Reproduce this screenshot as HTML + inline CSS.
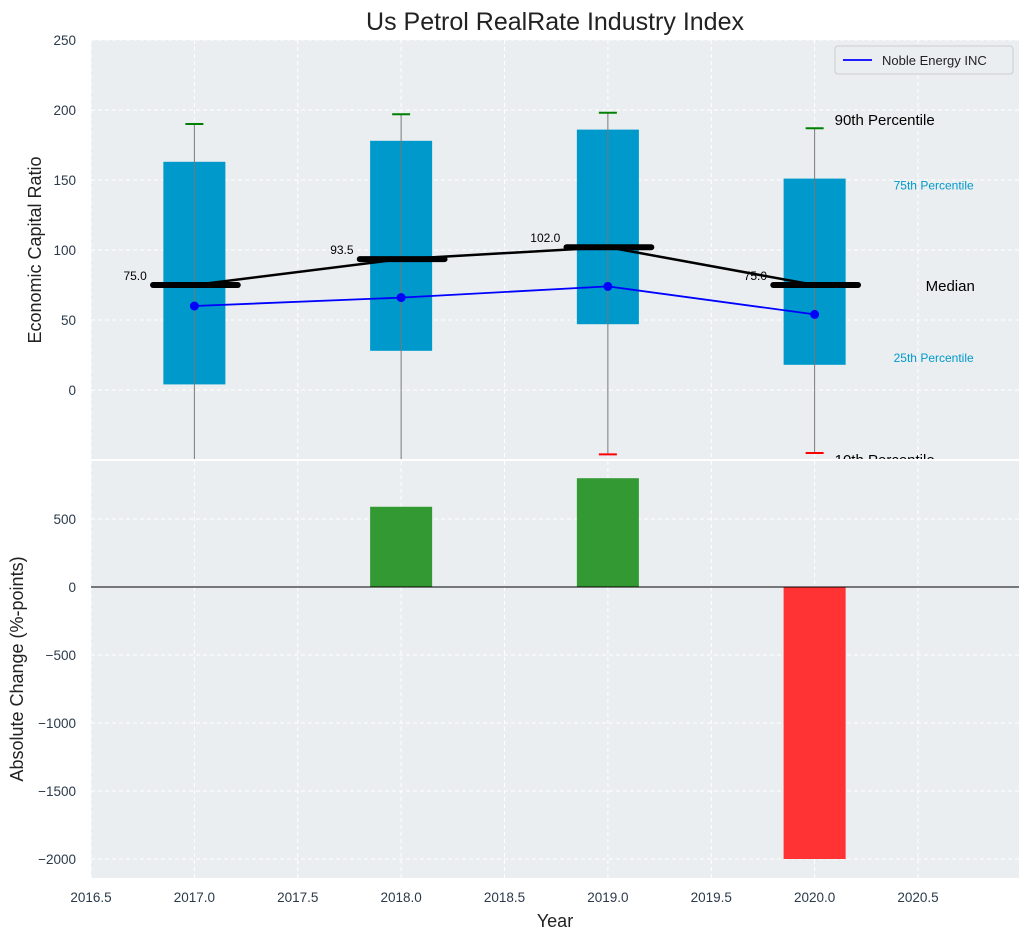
<!DOCTYPE html>
<html><head><meta charset="utf-8"><style>
body{margin:0;background:#fff;font-family:"Liberation Sans","DejaVu Sans",sans-serif}
svg text{font-family:"Liberation Sans","DejaVu Sans",sans-serif}
</style></head><body>
<svg id="c" width="1029" height="940" xmlns="http://www.w3.org/2000/svg"></svg>
<script>
const years=[2017,2018,2019,2020];
const q25=[4,28,47,18];
const q75=[163,178,186,151];
const p90=[190,197,198,187];
const p10=[-80,-80,-46,-45];
const medians=[75,93.5,102,75];
const company=[60,66,74,54];
const changes=[0,590,800,-2000];
const topTicks=[0,50,100,150,200,250];
const botTicks=[500,0,-500,-1000,-1500,-2000];
const xTicks=[2016.5,2017,2017.5,2018,2018.5,2019,2019.5,2020,2020.5];

const NS="http://www.w3.org/2000/svg";
const svg=document.getElementById('c');
const L=91,R=1019,T1=40,B1=459,T2=461,B2=878;
const x=v=>L+(v-2016.5)*206.75;
const y1=v=>390-1.4*v;
const y2=v=>587-0.136*v;
function el(tag,a,parent){const e=document.createElementNS(NS,tag);for(const k in a)e.setAttribute(k,a[k]);(parent||svg).appendChild(e);return e;}
function tx(s,a,p){const e=el('text',a,p);e.textContent=s;return e;}

const defs=el('defs',{});
const cp1=el('clipPath',{id:'cp1'},defs);el('rect',{x:L,y:T1,width:R-L,height:B1-T1},cp1);
const cp2=el('clipPath',{id:'cp2'},defs);el('rect',{x:L,y:T2,width:R-L,height:B2-T2},cp2);

const bg1=el('rect',{x:L,y:T1,width:R-L,height:B1-T1,fill:'#eaeef0'});


const bg2=el('rect',{x:L,y:T2,width:R-L,height:B2-T2,fill:'#eaeef0'});



xTicks.forEach(t=>{
  el('line',{x1:x(t),x2:x(t),y1:T1,y2:B1,stroke:'#fff','stroke-dasharray':'4,3','stroke-width':1});
  el('line',{x1:x(t),x2:x(t),y1:T2,y2:B2,stroke:'#fff','stroke-dasharray':'4,3','stroke-width':1});
  const l=tx(t.toFixed(1),{x:x(t),y:902,'text-anchor':'middle','font-size':13.5,fill:'#2b3a4a'});
  
  
});
topTicks.forEach(t=>{
  el('line',{x1:L,x2:R,y1:y1(t),y2:y1(t),stroke:'#fff','stroke-dasharray':'4,3'});
  const l=tx(String(t),{x:76,y:y1(t)+5,'text-anchor':'end','font-size':13.5,fill:'#2b3a4a'});
  
  
});
botTicks.forEach(t=>{
  el('line',{x1:L,x2:R,y1:y2(t),y2:y2(t),stroke:'#fff','stroke-dasharray':'4,3'});
  const l=tx(t<0?'\u2212'+(-t):String(t),{x:76,y:y2(t)+5,'text-anchor':'end','font-size':13.5,fill:'#2b3a4a'});
  
  
});

const g1=el('g',{'clip-path':'url(#cp1)'});
years.forEach((yr,i)=>{
  const b=el('rect',{x:x(yr-0.15),y:y1(q75[i]),width:x(yr+0.15)-x(yr-0.15),height:y1(q25[i])-y1(q75[i]),fill:'#0099cc'},g1);
  
  
  el('line',{x1:x(yr),x2:x(yr),y1:y1(p90[i]),y2:y1(p10[i]),stroke:'#777','stroke-width':1},g1);
  el('line',{x1:x(yr)-9,x2:x(yr)+9,y1:y1(p90[i]),y2:y1(p90[i]),stroke:'green','stroke-width':2},g1);
  el('line',{x1:x(yr)-9,x2:x(yr)+9,y1:y1(p10[i]),y2:y1(p10[i]),stroke:'red','stroke-width':2},g1);
});
el('polyline',{points:years.map((yr,i)=>x(yr)+','+y1(medians[i])).join(' '),fill:'none',stroke:'#000','stroke-width':2.5},g1);
years.forEach((yr,i)=>{
  const m=el('line',{x1:x(yr-0.2),x2:x(yr+0.21),y1:y1(medians[i]),y2:y1(medians[i]),stroke:'#000','stroke-width':6,'stroke-linecap':'round'},g1);
  
  
  tx(String(medians[i].toFixed(1)),{x:x(yr-0.23),y:y1(medians[i])-5,'text-anchor':'end','font-size':12,fill:'#000'},g1);
});
const cl=el('polyline',{points:years.map((yr,i)=>x(yr)+','+y1(company[i])).join(' '),fill:'none',stroke:'blue','stroke-width':1.8},g1);


years.forEach((yr,i)=>{const c=el('circle',{cx:x(yr),cy:y1(company[i]),r:4.5,fill:'blue'},g1);
  
  });
const li=years.length-1,lx=x(years[li]);
tx('90th Percentile',{x:lx+20,y:y1(p90[li])-3,'font-size':15,fill:'#000'},g1);
tx('75th Percentile',{x:lx+79,y:y1(q75[li])+11,'font-size':12,fill:'#0099cc'},g1);
tx('Median',{x:lx+111,y:y1(medians[li])+6,'font-size':15,fill:'#000'},g1);
tx('25th Percentile',{x:lx+79,y:y1(q25[li])-3,'font-size':12,fill:'#0099cc'},g1);
tx('10th Percentile',{x:lx+20,y:y1(p10[li])+12,'font-size':15,fill:'#000'},g1);

const lg=el('g',{});


el('rect',{x:835,y:46,width:178,height:28,rx:3,fill:'#eaeef0',stroke:'#ccc'},lg);
el('line',{x1:843,x2:872,y1:60,y2:60,stroke:'blue','stroke-width':1.8},lg);
tx('Noble Energy INC',{x:882,y:65,'font-size':13,fill:'#222'},lg);

const g2=el('g',{'clip-path':'url(#cp2)'});
years.forEach((yr,i)=>{
  const v=changes[i];
  const r=el('rect',{x:x(yr-0.15),y:Math.min(y2(v),y2(0)),width:x(yr+0.15)-x(yr-0.15),height:Math.abs(y2(v)-y2(0)),fill:v>=0?'#339933':'#ff3333'},g2);
  
  
});
el('line',{x1:L,x2:R,y1:y2(0),y2:y2(0),stroke:'#000','stroke-width':1},g2);

const t=tx('Us Petrol RealRate Industry Index',{x:555,y:30,'text-anchor':'middle','font-size':25,fill:'#222'});

const xt=tx('Year',{x:555,y:927,'text-anchor':'middle','font-size':18,fill:'#222'});

const yt1=tx('Economic Capital Ratio',{x:0,y:0,'text-anchor':'middle','font-size':18,fill:'#222',transform:'translate(41,250) rotate(-90)'});

const yt2=tx('Absolute Change (%-points)',{x:0,y:0,'text-anchor':'middle','font-size':18,fill:'#222',transform:'translate(23,669) rotate(-90)'});

</script>
</body></html>
